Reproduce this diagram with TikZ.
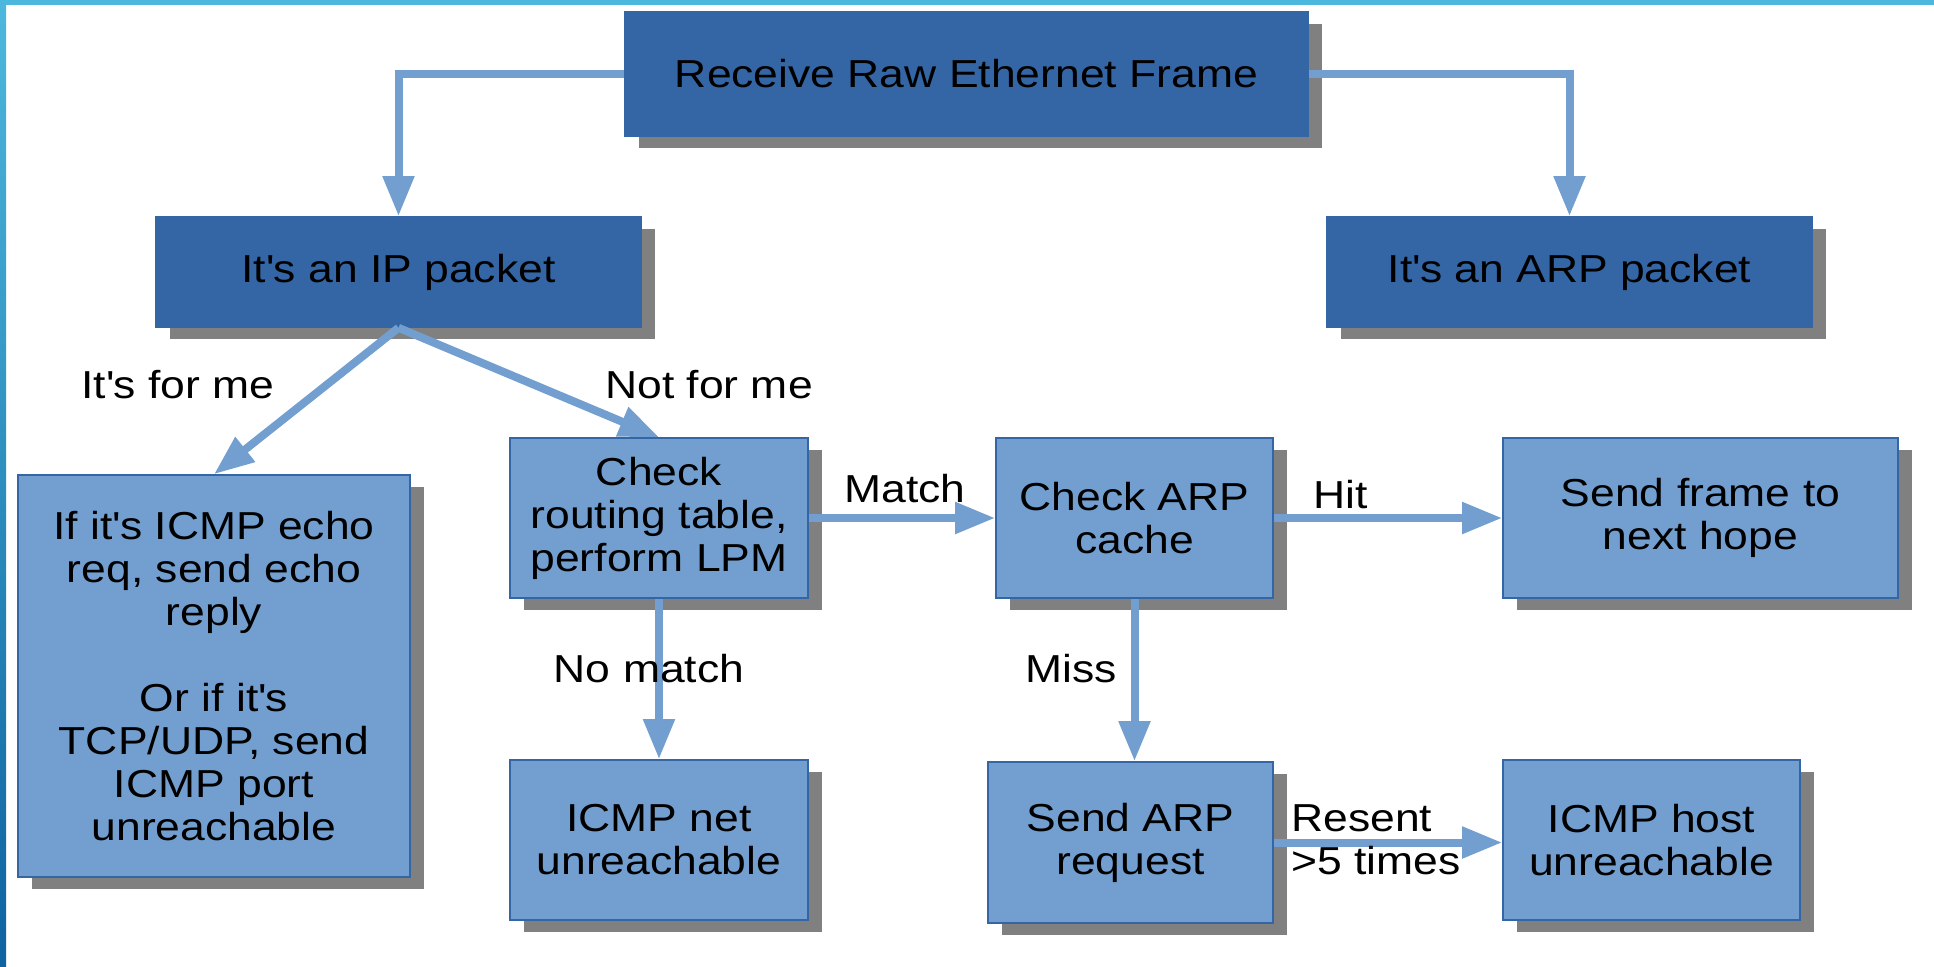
\documentclass[tikz,border=0pt]{standalone}
\usepackage{fontspec}
\setmainfont[FakeStretch=1.14]{Liberation Sans}
\usetikzlibrary{shadows,arrows.meta}
\definecolor{darkbox}{HTML}{3465A4}
\definecolor{lightbox}{HTML}{729FCF}
\definecolor{arrowc}{HTML}{729FCF}
\definecolor{shadowc}{HTML}{808080}
\definecolor{edgec}{HTML}{3465A4}
\definecolor{bandtop}{HTML}{4DB8DD}
\definecolor{bandbot}{HTML}{0E63A0}
\begin{document}
\begin{tikzpicture}[x=0.5pt,y=-0.5pt,
  box/.style={rectangle, draw=edgec, line width=0.8pt, inner sep=0pt, align=center,
    font=\fontsize{19.5}{21.5}\selectfont,
    drop shadow={shadow xshift=7pt, shadow yshift=-6pt, fill=shadowc, opacity=1}},
  darkb/.style={box, fill=darkbox},
  lightb/.style={box, fill=lightbox},
  arr/.style={draw=arrowc, line width=4pt, -{Triangle[length=20pt,width=15pt]}},
  lbl/.style={font=\fontsize{19.5}{21.5}\selectfont, inner sep=0pt}]
\useasboundingbox (0,0) rectangle (1934,966);
\fill[white] (0,0) rectangle (1934,966);
\fill[bandtop] (0,0) rectangle (1934,5);
\shade[top color=bandtop, bottom color=bandbot] (0,0) rectangle (6,966);

\node[darkb, minimum width=341.5pt, minimum height=62pt] (recv) at (966.5,74) {Receive Raw Ethernet Frame};
\node[darkb, minimum width=242.5pt, minimum height=55pt] (ip) at (398.5,272) {It\textquotesingle s an IP packet};
\node[darkb, minimum width=242.5pt, minimum height=55pt] (arp) at (1569.5,272) {It\textquotesingle s an ARP packet};
\node[lightb, minimum width=196pt, minimum height=201pt] (me) at (214,676) {If it\textquotesingle s ICMP echo\\req, send echo\\reply\\[21.5pt]Or if it\textquotesingle s\\TCP/UDP, send\\ICMP port\\unreachable};
\node[lightb, minimum width=149pt, minimum height=80pt] (route) at (659,518) {Check\\routing table,\\perform LPM};
\node[lightb, minimum width=149pt, minimum height=80pt] (net) at (659,840) {ICMP net\\unreachable};
\node[lightb, minimum width=138.5pt, minimum height=80pt] (cache) at (1134.5,518) {Check ARP\\cache};
\node[lightb, minimum width=197.5pt, minimum height=80pt] (send) at (1700.5,518) {Send frame to\\next hope};
\node[lightb, minimum width=142.5pt, minimum height=80.5pt] (req) at (1130.5,842.5) {Send ARP\\request};
\node[lightb, minimum width=148.5pt, minimum height=80pt] (host) at (1651.5,840) {ICMP host\\unreachable};

\draw[arr] (recv.west) -| (ip.north);
\draw[arr] (recv.east) -| (arp.north);
\draw[arr] (ip.south) -- (me.north);
\draw[arr] (ip.south) -- (route.north);
\draw[arr] (route.east) -- (cache.west);
\draw[arr] (cache.east) -- (send.west);
\draw[arr] (route.south) -- (net.north);
\draw[arr] (cache.south) -- (cache.south |- req.north);
\draw[arr] (req.east) -- (req.east -| host.west);

\node[lbl, anchor=base] (l1) at (178,398) {It\textquotesingle s for me};
\node[lbl, anchor=base] (l2) at (709,398) {Not for me};
\node[lbl, anchor=base] (l3) at (905,502) {Match};
\node[lbl, anchor=base] (l4) at (1341,508) {Hit};
\node[lbl, anchor=base] (l5) at (649,682) {No match};
\node[lbl, anchor=base] (l6) at (1071,682) {Miss};
\node[lbl, anchor=west, align=left] (l7) at (1291,840) {Resent\\>5 times};
\end{tikzpicture}
\end{document}
